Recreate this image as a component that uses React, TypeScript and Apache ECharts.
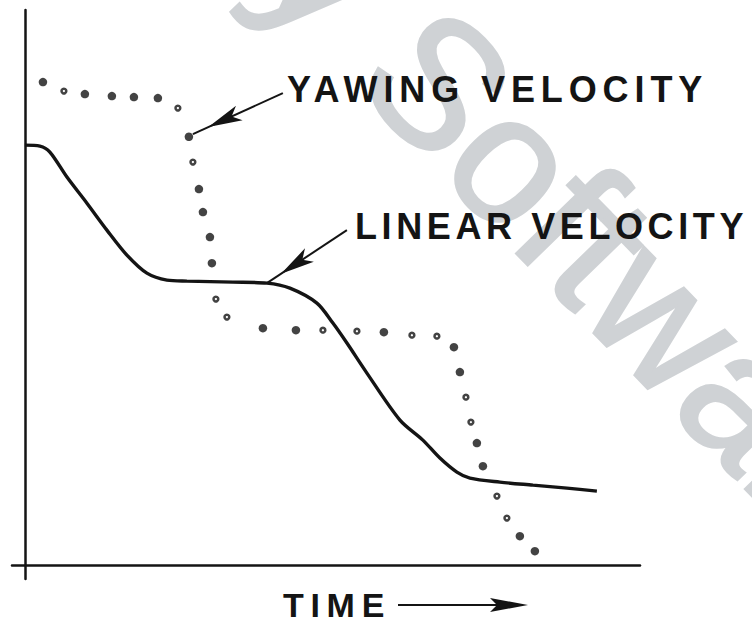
import React, { useEffect, useRef } from "react";
import * as echarts from "echarts";

// Linear velocity (solid curve): time vs value, arbitrary units (0..100)
const linearTime = [0, 2.44, 4.06, 6.83, 10.08, 13.33, 16.58, 19.83, 23.09, 26.34, 33.82, 39.34, 43.08, 47.47, 50.07, 52.35, 55.6, 60.97, 64.7, 67.47, 70.23, 72.35, 77.22, 82.6, 88.12, 92.99];
const linearValue = [75.66, 75.48, 74.4, 69.9, 65.2, 60.35, 55.85, 52.6, 51.34, 51.16, 50.98, 50.8, 49.9, 47.2, 43.6, 40.0, 34.59, 26.12, 22.52, 19.28, 16.75, 15.67, 14.95, 14.41, 13.87, 13.33];

// Yawing velocity (dotted): time vs value, with print style of each dot
const yawTime = [2.93, 6.34, 9.75, 14.14, 17.72, 21.62, 24.87, 26.66, 27.31, 28.29, 28.94, 30.08, 30.4, 31.05, 32.84, 38.69, 44.06, 48.45, 53.98, 58.36, 62.92, 66.98, 69.75, 70.72, 71.7, 72.51, 73.48, 74.46, 76.74, 78.36, 80.47, 82.91];
const yawValue = [87.01, 85.39, 84.85, 84.49, 84.31, 84.13, 82.33, 77.16, 72.6, 67.74, 63.59, 59.09, 54.4, 47.92, 44.68, 42.69, 42.33, 42.33, 42.15, 41.97, 41.43, 41.25, 39.27, 34.77, 30.26, 25.76, 21.98, 17.83, 12.43, 8.47, 5.22, 2.52];
const yawHollow = [false, true, false, false, false, false, true, false, true, false, false, false, false, true, true, false, false, true, true, false, true, true, false, false, true, true, false, false, true, true, false, false];

// Annotation arrows: [start, tip] in data units
const yawArrow = [[41.94, 85.03], [27.31, 77.64]];
const linearArrow = [[52.35, 60.35], [39.34, 50.8]];

const yawLabel = "YAWING VELOCITY";
const linearLabel = "LINEAR VELOCITY";
const timeLabel = "TIME";
const watermark = "by Software";

const INK = "#141414";
const FONT = '"Liberation Sans", Arial, Helvetica, sans-serif';

export default function App() {
  const ref = useRef<HTMLDivElement>(null);
  useEffect(() => {
    if (!ref.current) return;
    const chart = echarts.init(ref.current, null, { renderer: "svg" });
    const arrowLine = (a: number[][]) => ({
      silent: true,
      animation: false,
      label: { show: false },
      emphasis: { disabled: true },
      lineStyle: { color: INK, width: 2, type: "solid" },
      data: [
        [
          { coord: a[0], symbol: "none" },
          { coord: a[1], symbol: "arrow", symbolSize: [12, 34], symbolOffset: [0, 17] },
        ],
      ],
    });
    chart.setOption({
      animation: false,
      backgroundColor: "#ffffff",
      grid: { left: 12, right: 112, top: 10, bottom: 45 },
      xAxis: {
        type: "value",
        min: -2.1,
        max: 100,
        axisLine: { show: true, onZero: true, lineStyle: { color: INK, width: 2.5 } },
        axisTick: { show: false },
        axisLabel: { show: false },
        splitLine: { show: false },
      },
      yAxis: {
        type: "value",
        min: -2.5,
        max: 100,
        axisLine: { show: true, onZero: true, lineStyle: { color: INK, width: 2.5 } },
        axisTick: { show: false },
        axisLabel: { show: false },
        splitLine: { show: false },
      },
      series: [
        {
          type: "line",
          name: "Linear velocity",
          data: linearTime.map((t, i) => [t, linearValue[i]]),
          smooth: 0.3,
          symbol: "none",
          lineStyle: { color: INK, width: 3.4 },
          silent: true,
          z: 3,
          markLine: arrowLine(linearArrow),
        },
        {
          type: "scatter",
          name: "Yawing velocity",
          data: yawTime.map((t, i) =>
            yawHollow[i]
              ? { value: [t, yawValue[i]], symbolSize: 4.8, itemStyle: { color: "#ffffff", borderColor: INK, borderWidth: 2.5 } }
              : { value: [t, yawValue[i]], symbolSize: 8.5, itemStyle: { color: INK } }
          ),
          silent: true,
          z: 4,
          markLine: arrowLine(yawArrow),
        },
      ],
      graphic: [
        {
          type: "text",
          x: 396,
          y: 39,
          rotation: -0.8,
          z: -10,
          silent: true,
          style: {
            text: watermark,
            x: -241,
            fontSize: 181,
            fontFamily: FONT,
            fill: "#cfd2d5",
            stroke: "#cfd2d5",
            lineWidth: 3,
            textAlign: "left",
            textVerticalAlign: "middle",
          },
        },
        {
          type: "text",
          x: 287,
          y: 89,
          z: 10,
          silent: true,
          style: { text: yawLabel, fontSize: 36, fontWeight: "bold", fontFamily: FONT, fill: INK, textAlign: "left", textVerticalAlign: "middle" },
        },
        {
          type: "text",
          x: 355,
          y: 226,
          z: 10,
          silent: true,
          style: { text: linearLabel, fontSize: 36, fontWeight: "bold", fontFamily: FONT, fill: INK, textAlign: "left", textVerticalAlign: "middle" },
        },
        {
          type: "text",
          x: 283,
          y: 605,
          z: 10,
          silent: true,
          style: { text: timeLabel, fontSize: 34, fontWeight: "bold", fontFamily: FONT, fill: INK, textAlign: "left", textVerticalAlign: "middle" },
        },
        {
          type: "line",
          z: 10,
          silent: true,
          shape: { x1: 398, y1: 605, x2: 500, y2: 605 },
          style: { stroke: INK, lineWidth: 2 },
        },
        {
          type: "polygon",
          z: 10,
          silent: true,
          shape: { points: [[528, 605], [490, 598], [497, 605], [490, 612]] },
          style: { fill: INK },
        },
      ],
    });
    // Letter spacing of the spaced-out capitals, as printed
    const spacing: Record<string, string> = {
      [yawLabel]: "5.9px",
      [linearLabel]: "4.6px",
      [timeLabel]: "6.7px",
    };
    ref.current.querySelectorAll("text").forEach((t) => {
      const s = spacing[(t.textContent || "").trim()];
      if (s) t.setAttribute("letter-spacing", s);
    });
    return () => chart.dispose();
  }, []);
  return <div ref={ref} style={{ position: "absolute", left: 0, top: 0, width: 752, height: 624 }} />;
}
